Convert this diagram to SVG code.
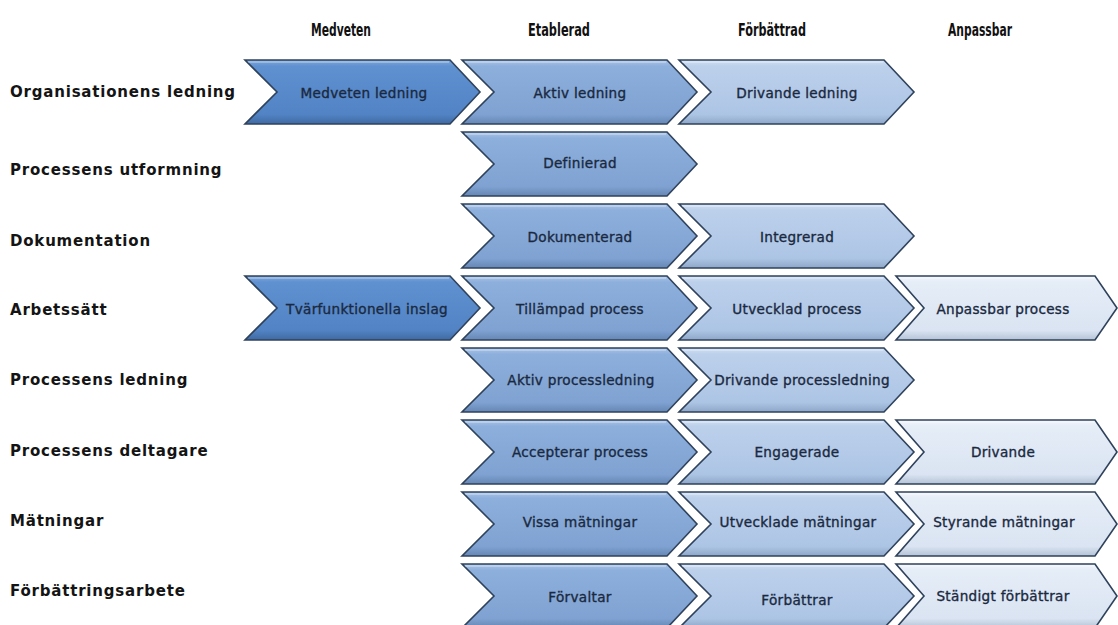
<svg xmlns="http://www.w3.org/2000/svg" xmlns:xlink="http://www.w3.org/1999/xlink" width="1118" height="625" viewBox="0 0 1118 625">
  <style>
    .bg { fill: #ffffff; }
    .head { font-family: "DejaVu Sans Condensed", "DejaVu Sans", sans-serif; font-stretch: condensed; font-weight: bold; font-size: 17.5px; fill: #111111; text-anchor: middle; }
    .row { font-family: "DejaVu Sans", "Liberation Sans", sans-serif; font-weight: bold; font-size: 15px; letter-spacing: 0.8px; fill: #141414; }
    .lbl { font-family: "DejaVu Sans", "Liberation Sans", sans-serif; font-size: 13.6px; letter-spacing: 0.3px; fill: #1a2940; stroke: #1a2940; stroke-width: 0.35; text-anchor: middle; dominant-baseline: central; }
    .chev { stroke: #2f425c; stroke-width: 1.6; stroke-linejoin: miter; }
    .c1 { fill: url(#g1); }
    .c2 { fill: url(#g2); }
    .c3 { fill: url(#g3); }
    .c4 { fill: url(#g4); }
    .hl { fill: none; stroke: #ffffff; stroke-opacity: 0.55; stroke-width: 1.2; }
  </style>
  <defs>
    <!-- body shape used by columns 1-3 and the narrower last column -->
    <path id="chv" d="M0,0 H205 L235,32 L205,64 H0 L32,32 Z"/>
    <path id="chv4" d="M0,0 H199 L221,32 L199,64 H0 L28,32 Z"/>
    <linearGradient id="g1" x1="0" y1="0" x2="0" y2="1">
      <stop offset="0" stop-color="#7ea8dc"/>
      <stop offset="0.1" stop-color="#5f90d0"/>
      <stop offset="0.85" stop-color="#5283c4"/>
      <stop offset="1" stop-color="#3f6aa3"/>
    </linearGradient>
    <linearGradient id="g2" x1="0" y1="0" x2="0" y2="1">
      <stop offset="0" stop-color="#a9c3e6"/>
      <stop offset="0.1" stop-color="#8dafdc"/>
      <stop offset="0.85" stop-color="#7fa2d2"/>
      <stop offset="1" stop-color="#6687b5"/>
    </linearGradient>
    <linearGradient id="g3" x1="0" y1="0" x2="0" y2="1">
      <stop offset="0" stop-color="#d0e0f3"/>
      <stop offset="0.1" stop-color="#bcd0eb"/>
      <stop offset="0.85" stop-color="#adc5e5"/>
      <stop offset="1" stop-color="#8ea7c8"/>
    </linearGradient>
    <linearGradient id="g4" x1="0" y1="0" x2="0" y2="1">
      <stop offset="0" stop-color="#f2f6fb"/>
      <stop offset="0.1" stop-color="#e5edf7"/>
      <stop offset="0.85" stop-color="#dae4f2"/>
      <stop offset="1" stop-color="#b5c3d6"/>
    </linearGradient>
  </defs>

  <rect class="bg" x="0" y="0" width="1118" height="625"/>

  <!-- column headings -->
  <g id="headings">
    <text class="head" x="341" y="36" textLength="60" lengthAdjust="spacingAndGlyphs">Medveten</text>
    <text class="head" x="559" y="36" textLength="62" lengthAdjust="spacingAndGlyphs">Etablerad</text>
    <text class="head" x="772" y="36" textLength="68" lengthAdjust="spacingAndGlyphs">Förbättrad</text>
    <text class="head" x="980" y="36" textLength="64" lengthAdjust="spacingAndGlyphs">Anpassbar</text>
  </g>

  <!-- row headings -->
  <g id="rows">
    <text class="row" x="10" y="97">Organisationens ledning</text>
    <text class="row" x="10" y="175">Processens utformning</text>
    <text class="row" x="10" y="246">Dokumentation</text>
    <text class="row" x="10" y="315">Arbetssätt</text>
    <text class="row" x="10" y="385">Processens ledning</text>
    <text class="row" x="10" y="456">Processens deltagare</text>
    <text class="row" x="10" y="526">Mätningar</text>
    <text class="row" x="10" y="596">Förbättringsarbete</text>
  </g>

  <!-- row 1 -->
  <g id="r1c1" transform="translate(245,60)"><use href="#chv" class="chev c1"/><path class="hl" d="M3,2 H204"/><text class="lbl" x="119" y="33">Medveten ledning</text></g>
  <g id="r1c2" transform="translate(462,60)"><use href="#chv" class="chev c2"/><path class="hl" d="M3,2 H204"/><text class="lbl" x="118" y="33">Aktiv ledning</text></g>
  <g id="r1c3" transform="translate(679,60)"><use href="#chv" class="chev c3"/><path class="hl" d="M3,2 H204"/><text class="lbl" x="118" y="33">Drivande ledning</text></g>

  <!-- row 2 -->
  <g id="r2c2" transform="translate(462,132)"><use href="#chv" class="chev c2"/><path class="hl" d="M3,2 H204"/><text class="lbl" x="118" y="31">Definierad</text></g>

  <!-- row 3 -->
  <g id="r3c2" transform="translate(462,204)"><use href="#chv" class="chev c2"/><path class="hl" d="M3,2 H204"/><text class="lbl" x="118" y="33">Dokumenterad</text></g>
  <g id="r3c3" transform="translate(679,204)"><use href="#chv" class="chev c3"/><path class="hl" d="M3,2 H204"/><text class="lbl" x="118" y="33">Integrerad</text></g>

  <!-- row 4 -->
  <g id="r4c1" transform="translate(245,276)"><use href="#chv" class="chev c1"/><path class="hl" d="M3,2 H204"/><text class="lbl" x="122" y="33">Tvärfunktionella inslag</text></g>
  <g id="r4c2" transform="translate(462,276)"><use href="#chv" class="chev c2"/><path class="hl" d="M3,2 H204"/><text class="lbl" x="118" y="33">Tillämpad process</text></g>
  <g id="r4c3" transform="translate(679,276)"><use href="#chv" class="chev c3"/><path class="hl" d="M3,2 H204"/><text class="lbl" x="118" y="33">Utvecklad process</text></g>
  <g id="r4c4" transform="translate(896,276)"><use href="#chv4" class="chev c4"/><path class="hl" d="M3,2 H198"/><text class="lbl" x="107" y="33">Anpassbar process</text></g>

  <!-- row 5 -->
  <g id="r5c2" transform="translate(462,348)"><use href="#chv" class="chev c2"/><path class="hl" d="M3,2 H204"/><text class="lbl" x="119" y="32">Aktiv processledning</text></g>
  <g id="r5c3" transform="translate(679,348)"><use href="#chv" class="chev c3"/><path class="hl" d="M3,2 H204"/><text class="lbl" x="123" y="32">Drivande processledning</text></g>

  <!-- row 6 -->
  <g id="r6c2" transform="translate(462,420)"><use href="#chv" class="chev c2"/><path class="hl" d="M3,2 H204"/><text class="lbl" x="118" y="32">Accepterar process</text></g>
  <g id="r6c3" transform="translate(679,420)"><use href="#chv" class="chev c3"/><path class="hl" d="M3,2 H204"/><text class="lbl" x="118" y="32">Engagerade</text></g>
  <g id="r6c4" transform="translate(896,420)"><use href="#chv4" class="chev c4"/><path class="hl" d="M3,2 H198"/><text class="lbl" x="107" y="32">Drivande</text></g>

  <!-- row 7 -->
  <g id="r7c2" transform="translate(462,492)"><use href="#chv" class="chev c2"/><path class="hl" d="M3,2 H204"/><text class="lbl" x="118" y="30">Vissa mätningar</text></g>
  <g id="r7c3" transform="translate(679,492)"><use href="#chv" class="chev c3"/><path class="hl" d="M3,2 H204"/><text class="lbl" x="119" y="30">Utvecklade mätningar</text></g>
  <g id="r7c4" transform="translate(896,492)"><use href="#chv4" class="chev c4"/><path class="hl" d="M3,2 H198"/><text class="lbl" x="108" y="30">Styrande mätningar</text></g>

  <!-- row 8 -->
  <g id="r8c2" transform="translate(462,564)"><use href="#chv" class="chev c2"/><path class="hl" d="M3,2 H204"/><text class="lbl" x="118" y="33">Förvaltar</text></g>
  <g id="r8c3" transform="translate(679,564)"><use href="#chv" class="chev c3"/><path class="hl" d="M3,2 H204"/><text class="lbl" x="118" y="36">Förbättrar</text></g>
  <g id="r8c4" transform="translate(896,564)"><use href="#chv4" class="chev c4"/><path class="hl" d="M3,2 H198"/><text class="lbl" x="107" y="32">Ständigt förbättrar</text></g>

  <!-- no connectors in this chart -->
  <g id="connectors"/>
</svg>
